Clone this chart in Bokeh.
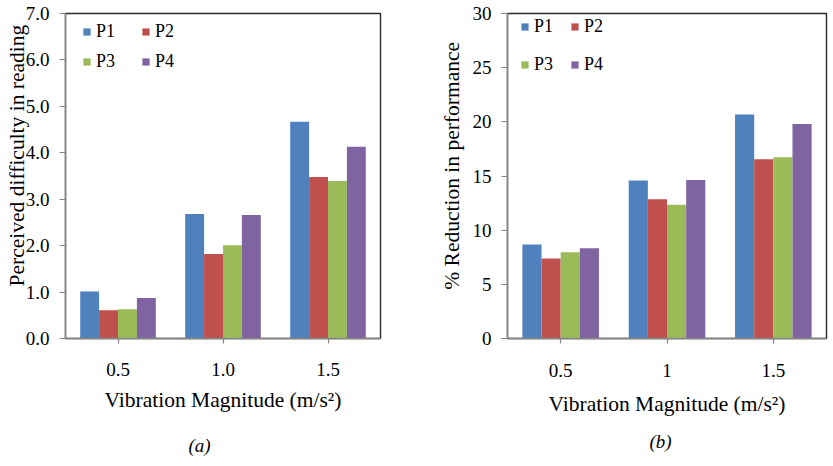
from bokeh.plotting import figure
from bokeh.layouts import row
from bokeh.models import (ColumnDataSource, Range1d, FixedTicker, Legend,
                          LegendItem, LinearAxis, NumeralTickFormatter)
from bokeh.transform import dodge
from bokeh.embed import file_html
from bokeh.resources import INLINE

# Vibration magnitudes (m/s^2)
magnitudes_a = ["0.5", "1.0", "1.5"]
magnitudes_b = ["0.5", "1", "1.5"]
postures = ["P1", "P2", "P3", "P4"]

# (a) perceived difficulty in reading
difficulty_p1 = [1.01, 2.68, 4.67]
difficulty_p2 = [0.61, 1.82, 3.48]
difficulty_p3 = [0.63, 2.01, 3.39]
difficulty_p4 = [0.87, 2.66, 4.13]

# (b) % reduction in reading performance
reduction_p1 = [8.67, 14.58, 20.67]
reduction_p2 = [7.38, 12.85, 16.55]
reduction_p3 = [7.97, 12.34, 16.73]
reduction_p4 = [8.33, 14.64, 19.80]

y_ticks_a = [0, 1, 2, 3, 4, 5, 6, 7]
y_ticks_b = [0, 5, 10, 15, 20, 25, 30]

COLORS = ["#4F81BD", "#C0504D", "#9BBB59", "#8064A2"]
FONT = "Liberation Serif"
BAR_W = 0.18
OFFSETS = [-0.27, -0.09, 0.09, 0.27]


def text_axis(text, pos, standoff, size, style="normal", orientation="horizontal"):
    """A bare axis whose single tick label is a free-standing caption at `pos`."""
    ax = LinearAxis(ticker=FixedTicker(ticks=[pos]),
                    major_label_overrides={pos: text})
    ax.axis_line_color = None
    ax.major_tick_line_color = None
    ax.minor_tick_line_color = None
    ax.major_tick_out = 0
    ax.major_tick_in = 0
    ax.minor_tick_out = 0
    ax.minor_tick_in = 0
    ax.major_label_standoff = standoff
    ax.major_label_orientation = orientation
    ax.major_label_text_font = FONT
    ax.major_label_text_font_size = size
    ax.major_label_text_font_style = style
    ax.major_label_text_color = "black"
    return ax


def make_panel(cats, series, y_max, y_ticks, fmt, width, borders,
               y_title, y_title_pos, tag, tag_pos, tick_standoff, xlabel_standoff,
               tag_standoff, ytitle_standoff, legend_loc, legend_label_w,
               legend_spacing):
    left, right, top, bottom = borders
    n = len(cats)
    p = figure(width=width, height=466, x_range=Range1d(0, n),
               y_range=Range1d(0, y_max), output_backend="svg",
               toolbar_location=None, min_border=0)
    p.min_border_left = left
    p.min_border_right = right
    p.min_border_top = top
    p.min_border_bottom = bottom
    p.background_fill_color = "white"
    p.border_fill_color = "white"
    p.outline_line_color = "#2b2b2b"
    p.outline_line_width = 1.4
    p.xgrid.visible = False
    p.ygrid.visible = False

    # category slots: the i-th magnitude occupies [i, i+1]
    centres = [i + 0.5 for i in range(n)]
    data = {"x": centres}
    for name, vals in zip(postures, series):
        data[name] = vals
    src = ColumnDataSource(data)

    items = []
    for name, off, col in zip(postures, OFFSETS, COLORS):
        r = p.vbar(x=dodge("x", off), top=name, width=BAR_W,
                   source=src, fill_color=col, line_color=None)
        items.append(LegendItem(label=name, renderers=[r]))

    for ax in (p.xaxis[0], p.yaxis[0]):
        ax.axis_line_color = "#868686"
        ax.axis_line_width = 1.4
        ax.major_tick_line_color = "#868686"
        ax.major_tick_line_width = 1.2
        ax.major_tick_in = 0
        ax.minor_tick_line_color = None
        ax.major_label_text_font = FONT
        ax.major_label_text_font_size = "19px"
        ax.major_label_text_color = "black"

    ya = p.yaxis[0]
    ya.ticker = FixedTicker(ticks=y_ticks)
    ya.formatter = NumeralTickFormatter(format=fmt)
    ya.major_tick_out = 6
    ya.major_label_standoff = 10

    xa = p.xaxis[0]
    xa.ticker = FixedTicker(ticks=centres)
    xa.major_label_overrides = {c: lab for c, lab in zip(centres, cats)}
    xa.major_tick_out = 5
    xa.major_label_standoff = tick_standoff
    xa.axis_label = "Vibration Magnitude (m/s\u00b2)"
    xa.axis_label_text_font = FONT
    xa.axis_label_text_font_size = "21.5px"
    xa.axis_label_text_font_style = "normal"
    xa.axis_label_text_color = "black"
    xa.axis_label_standoff = xlabel_standoff

    p.add_layout(text_axis(y_title, y_title_pos, ytitle_standoff, "21.5px",
                           orientation="parallel"), "left")
    p.add_layout(text_axis(tag, tag_pos, tag_standoff, "19px", "italic"), "below")

    legend = Legend(items=items, location=legend_loc, ncols=2,
                    orientation="horizontal")
    legend.padding = 0
    legend.margin = 0
    legend.border_line_color = None
    legend.background_fill_alpha = 0
    legend.glyph_width = 9
    legend.glyph_height = 9
    legend.label_height = 20
    legend.label_width = legend_label_w
    legend.label_standoff = 5
    legend.spacing = legend_spacing
    legend.label_text_font = FONT
    legend.label_text_font_size = "18px"
    legend.label_text_color = "black"
    p.add_layout(legend)
    return p


pa = make_panel(magnitudes_a,
                [difficulty_p1, difficulty_p2, difficulty_p3, difficulty_p4],
                7, y_ticks_a, "0.0", 420, (65, 40, 13, 128),
                "Perceived difficulty in reading", 3.94, "(a)", 1.276,
                19, 9, 20, -7, (17, 266), 36, 9)

pb = make_panel(magnitudes_b,
                [reduction_p1, reduction_p2, reduction_p3, reduction_p4],
                30, y_ticks_b, "0", 413, (87, 7, 7, 124),
                "% Reduction in performance", 15.94, "(b)", 1.439,
                20, 12, 12, 5, (13, 263), 19, 17)

layout = row(pa, pb)
open("out.html", "w").write(file_html(layout, INLINE))
